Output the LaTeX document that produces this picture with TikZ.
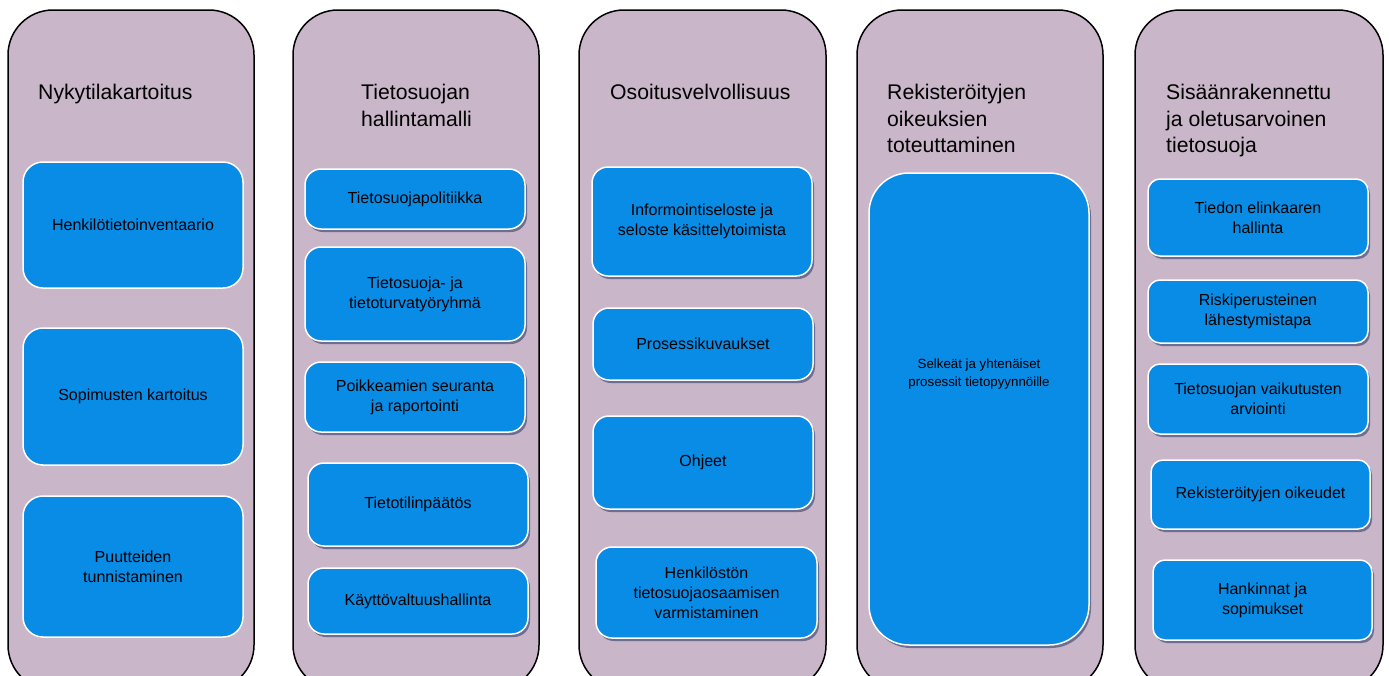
\documentclass[tikz,border=0pt]{standalone}
\usepackage{fontspec}
\setmainfont{Liberation Sans}
\usetikzlibrary{shadows}

\definecolor{mauve}{RGB}{201,182,201}
\definecolor{tsblue}{RGB}{8,140,230}
\definecolor{shade}{RGB}{110,110,145}

\tikzset{
  column/.style={draw=black, line width=1.5pt, fill=mauve, rounded corners=45pt},
  coltitle/.style={anchor=north west, align=left, inner sep=0pt, font=\fontsize{21.2}{26.5}\selectfont},
  item/.style={draw=white, line width=1.5pt, fill=tsblue, rounded corners=16pt, align=center, font=\fontsize{16}{20}\selectfont},
  shaditem/.style={item, drop shadow={shadow xshift=2pt, shadow yshift=-3pt, fill=shade, opacity=1}}
}

\begin{document}
\begin{tikzpicture}[x=1pt, y=-1pt]

    \useasboundingbox (0,0) rectangle (1389,675);
    \clip (0,0) rectangle (1389,675);

    % Columns
    \draw[column] (8,10) rectangle (254,690);
    \draw[column] (293,10) rectangle (539,690);
    \draw[column] (579,10) rectangle (826,690);
    \draw[column] (857,10) rectangle (1103,690);
    \draw[column] (1135,10) rectangle (1383,690);

    % Column titles
    \node[coltitle] (t1) at (38,84) {Nykytilakartoitus};
    \node[coltitle] (t2) at (361,84) {Tietosuojan\\hallintamalli};
    \node[coltitle] (t3) at (610,84) {Osoitusvelvollisuus};
    \node[coltitle] (t4) at (887,84) {Rekisteröityjen\\oikeuksien\\toteuttaminen};
    \node[coltitle] (t5) at (1166,84) {Sisäänrakennettu\\ja oletusarvoinen\\tietosuoja};

    % Nykytilakartoitus
    \node[item, rounded corners=20pt, minimum width=220pt, minimum height=126pt] (inv) at (133,225) {Henkilötietoinventaario};
    \node[item, rounded corners=20pt, minimum width=220pt, minimum height=137pt] (sop) at (133,396.5) {Sopimusten kartoitus};
    \node[item, rounded corners=20pt, minimum width=220pt, minimum height=141pt] (puu) at (133,566.5) {Puutteiden\\tunnistaminen};

    % Tietosuojan hallintamalli
    \node[shaditem, minimum width=220pt, minimum height=60pt] (pol) at (415,199) {Tietosuojapolitiikka};
    \node[shaditem, minimum width=220pt, minimum height=94pt] (ryh) at (415,294) {Tietosuoja- ja\\tietoturvatyöryhmä};
    \node[shaditem, minimum width=220pt, minimum height=70pt] (poi) at (415,397) {Poikkeamien seuranta\\ja raportointi};
    \node[shaditem, minimum width=220pt, minimum height=83pt] (til) at (418,504.5) {Tietotilinpäätös};
    \node[shaditem, minimum width=220pt, minimum height=66pt] (kay) at (418,601) {Käyttövaltuushallinta};

    % Osoitusvelvollisuus
    \node[shaditem, minimum width=220pt, minimum height=109pt] (inf) at (702,221.5) {Informointiseloste ja\\seloste käsittelytoimista};
    \node[shaditem, minimum width=220pt, minimum height=72pt] (pro) at (703,344) {Prosessikuvaukset};
    \node[shaditem, minimum width=220pt, minimum height=93pt] (ohj) at (703,462.5) {Ohjeet};
    \node[shaditem, minimum width=221pt, minimum height=91pt] (hen) at (706.5,592.5) {Henkilöstön\\tietosuojaosaamisen\\varmistaminen};

    % Rekisteroityjen oikeuksien toteuttaminen
    \node[shaditem, rounded corners=40pt, minimum width=220pt, minimum height=472pt] (sel) at (979,409) {};
    \node[align=center, font=\fontsize{13.3}{18.3}\selectfont] (selt) at (979,374) {Selkeät ja yhtenäiset\\prosessit tietopyynnöille};

    % Sisaanrakennettu ja oletusarvoinen tietosuoja
    \node[shaditem, rounded corners=12pt, minimum width=220pt, minimum height=77pt] (ela) at (1258,217.5) {Tiedon elinkaaren\\hallinta};
    \node[shaditem, rounded corners=12pt, minimum width=220pt, minimum height=63pt] (ris) at (1258,311.5) {Riskiperusteinen\\lähestymistapa};
    \node[shaditem, rounded corners=12pt, minimum width=220pt, minimum height=70pt] (vai) at (1258,399) {Tietosuojan vaikutusten\\arviointi};
    \node[shaditem, rounded corners=12pt, minimum width=219pt, minimum height=69pt] (oik) at (1260.5,494.5) {Rekisteröityjen oikeudet};
    \node[shaditem, rounded corners=12pt, minimum width=219pt, minimum height=80pt] (han) at (1262.5,600) {Hankinnat ja\\sopimukset};

\end{tikzpicture}
\end{document}
